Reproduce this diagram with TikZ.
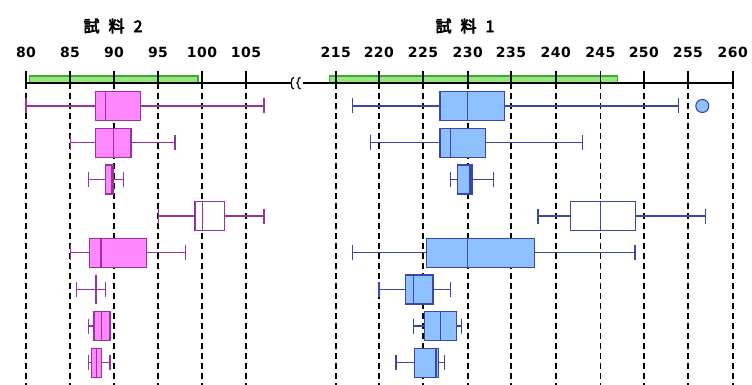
\documentclass[tikz,border=0pt]{standalone}
\usepackage{fontspec}
\newfontfamily\jpb{Noto Sans CJK JP}[FakeBold=4]
\newfontfamily\numf{DejaVu Sans}[LetterSpace=3]
\definecolor{pkfill}{HTML}{FF88FF}
\definecolor{pkline}{HTML}{993399}
\definecolor{blfill}{HTML}{8FC0FF}
\definecolor{blline}{HTML}{3A46A8}
\definecolor{grfill}{HTML}{96E67A}
\definecolor{grline}{HTML}{3FA83A}
\tikzset{
  pkwh/.style={draw=pkline, line width=1.3pt},
  pkbx/.style={draw=pkline, fill=pkfill, line width=1.3pt},
  pkop/.style={draw=pkline, fill=white, line width=1.3pt},
  blwh/.style={draw=blline, line width=1.3pt},
  blbx/.style={draw=blline, fill=blfill, line width=1.3pt},
  blop/.style={draw=blline, fill=white, line width=1.3pt},
  grid/.style={draw=black, line width=1.6pt, dash pattern=on 6pt off 4pt},
  tickm/.style={draw=black, line width=1.6pt},
  axisl/.style={draw=black, line width=1.2pt},
  greenbar/.style={draw=grline, fill=grfill, line width=1.2pt},
  numlab/.style={font=\numf\bfseries\fontsize{14}{14}\selectfont, inner sep=0pt},
  titlab/.style={font=\jpb\fontsize{16}{16}\selectfont, inner sep=0pt},
}
% #1 y, #2 left whisker, #3 q1, #4 median, #5 q3, #6 right whisker, #7 whisker style, #8 box style
\newcommand\bxp[8]{%
  \draw[#7] (#2,#1-7.5) -- (#2,#1+7.5);
  \draw[#7] (#2,#1) -- (#3,#1);
  \draw[#7] (#5,#1) -- (#6,#1);
  \draw[#7] (#6,#1-7.5) -- (#6,#1+7.5);
  \draw[#8] (#3,#1-14.5) rectangle (#5,#1+14.5);
  \draw[#7] (#4,#1-14.5) -- (#4,#1+14.5);
}
\begin{document}
\begin{tikzpicture}[x=1pt,y=-1pt]
\useasboundingbox (0,0) rectangle (752,385);
% titles
\node[titlab] (t2) at (113,26) {試\hskip9pt 料\hskip9pt 2};
\node[titlab] (t1) at (465,26) {試\hskip9pt 料\hskip9pt 1};
% left axis labels and grid
\foreach \v/\x in {80/26,85/70,90/114,95/158,100/202,105/246}{
  \node[numlab] (l\v) at (\x,52) {\v};
  \draw[grid] (\x,83) -- (\x,385);
}
\foreach \v/\x in {215/335.7,220/378.8,225/423,230/467.7,235/511,240/555.7,245/600.3,250/643.8,255/687.9,260/732.7}{
  \node[numlab] (r\v) at (\x,52) {\v};
  \draw[grid] (\x,83) -- (\x,385);
}
% green bars
\draw[greenbar] (29.3,76) rectangle (198,83);
\draw[greenbar] (329.3,76) rectangle (617.3,83);
% ticks
\foreach \x in {26,70,114,158,202,246,335.7,378.8,423,467.7,511,555.7,600.3,643.8,687.9,732.7}{
  \draw[tickm] (\x,71) -- (\x,83);
}
% axis line with break
\coordinate (al) at (26,83);
\coordinate (ab1) at (290,83);
\coordinate (ab2) at (303,83);
\coordinate (ar) at (732.7,83);
\draw[axisl] (al) -- (ab1);
\draw[axisl] (ab2) -- (ar);
\draw[axisl] (294,77.5) .. controls (290,78) and (293,82) .. (290.5,83) .. controls (293,84) and (290,88) .. (294,89);
\draw[axisl] (300.5,77.5) .. controls (296.5,78) and (299.5,82) .. (297,83) .. controls (299.5,84) and (296.5,88) .. (300.5,89);
% left panel (sample 2)
\bxp{106}{26}{95.7}{105.7}{140.7}{264}{pkwh}{pkbx}
\bxp{142.7}{70.7}{95.7}{113.3}{131}{175}{pkwh}{pkbx}
\bxp{179.4}{88.3}{105.3}{112}{113.3}{123.3}{pkwh}{pkbx}
\bxp{216}{158.3}{195}{202.3}{224.3}{264}{pkwh}{pkop}
\bxp{252.7}{70.7}{89.3}{101}{146.7}{185.7}{pkwh}{pkbx}
\bxp{289.4}{76.7}{96}{96}{96}{105.3}{pkwh}{pkbx}
\bxp{326}{88.3}{94}{101.7}{110}{110}{pkwh}{pkbx}
\bxp{362.7}{88.3}{91.7}{96.7}{101.7}{110}{pkwh}{pkbx}
% right panel (sample 1)
\bxp{106}{352.7}{440}{467.7}{504.7}{678.3}{blwh}{blbx}
\bxp{142.7}{370.7}{440}{450.7}{485.7}{582.7}{blwh}{blbx}
\bxp{179.4}{450.7}{457.7}{470}{472}{493.3}{blwh}{blbx}
\bxp{216}{538}{570.7}{600.3}{635.3}{705.7}{blwh}{blop}
\bxp{252.7}{352.7}{426.7}{467.7}{534.3}{635}{blwh}{blbx}
\bxp{289.4}{379}{405.3}{413.3}{433}{450.7}{blwh}{blbx}
\bxp{326}{413.3}{424.3}{440.7}{456.7}{461.7}{blwh}{blbx}
\bxp{362.7}{396}{414.7}{436}{438.7}{444.3}{blwh}{blbx}
% outlier
\node[circle, draw=blline, fill=blfill, line width=1.1pt, minimum size=13pt, inner sep=0pt] (out1) at (702.3,106) {};
\end{tikzpicture}
\end{document}
